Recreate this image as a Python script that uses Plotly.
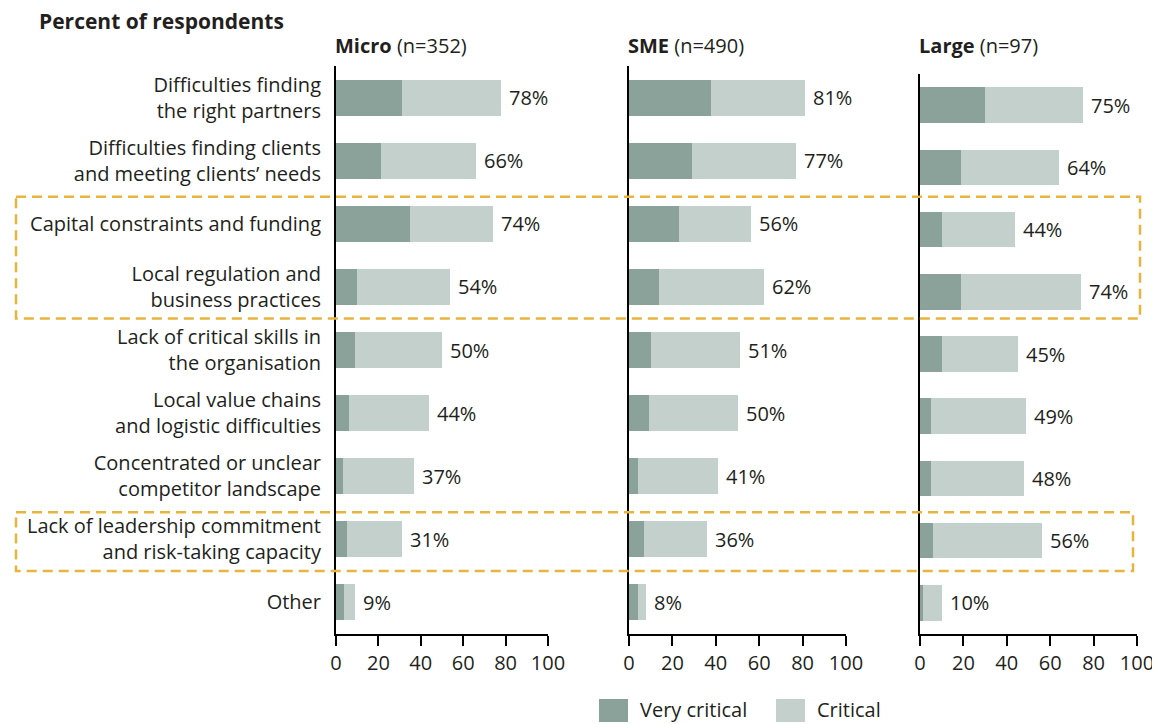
import plotly.graph_objects as go

categories = [
    "Difficulties finding<br>the right partners",
    "Difficulties finding clients<br>and meeting clients’ needs",
    "Capital constraints and funding",
    "Local regulation and<br>business practices",
    "Lack of critical skills in<br>the organisation",
    "Local value chains<br>and logistic difficulties",
    "Concentrated or unclear<br>competitor landscape",
    "Lack of leadership commitment<br>and risk-taking capacity",
    "Other",
]

panels = ["Micro", "SME", "Large"]
panel_n = ["(n=352)", "(n=490)", "(n=97)"]

micro_very = [31, 21, 35, 10, 9, 6, 3.5, 5, 4]
micro_crit = [47, 45, 39, 44, 41, 38, 33.5, 26, 5]
micro_total = [78, 66, 74, 54, 50, 44, 37, 31, 9]

sme_very = [38, 29, 23, 14, 10, 9, 4, 7, 4]
sme_crit = [43, 48, 33, 48, 41, 41, 37, 29, 4]
sme_total = [81, 77, 56, 62, 51, 50, 41, 36, 8]

large_very = [30, 19, 10, 19, 10, 5, 5, 6, 1.5]
large_crit = [45, 45, 34, 55, 35, 44, 43, 50, 8.5]
large_total = [75, 64, 44, 74, 45, 49, 48, 56, 10]

highlight_groups = [[2, 3], [7]]

x_ticks = [0, 20, 40, 60, 80, 100]

DARK = "#8BA29A"
LIGHT = "#C4D0CC"
TEXT = "#231F20"
GOLD = "#E9B43C"
FONT = "Open Sans"

OFF = 8  # page body margin
W, H = 1160 - OFF, 724 - OFF
PLOT_TOP, PLOT_BOTTOM = 66, 634
MT = PLOT_TOP - OFF
MB = H - (PLOT_BOTTOM - OFF)
PH = H - MT - MB

def px_x(p):
    return (p - OFF) / W

def px_y(p):
    return (PLOT_BOTTOM - p) / PH

data_sets = [
    (micro_very, micro_crit, micro_total),
    (sme_very, sme_crit, sme_total),
    (large_very, large_crit, large_total),
]
x_domains = [[px_x(336), px_x(548)], [px_x(629), px_x(846)], [px_x(920), px_x(1137)]]
y_domains = [[0, 1], [0, 1], [0, px_y(74)]]

fig = go.Figure()
annotations = []

for i, (very, crit, total) in enumerate(data_sets):
    sfx = "" if i == 0 else str(i + 1)
    fig.add_trace(go.Bar(
        y=categories, x=very, orientation="h", name="Very critical",
        marker=dict(color=DARK, line=dict(width=0)), width=0.57,
        xaxis="x" + sfx, yaxis="y" + sfx, showlegend=False, hoverinfo="x",
    ))
    fig.add_trace(go.Bar(
        y=categories, x=crit, orientation="h", name="Critical",
        marker=dict(color=LIGHT, line=dict(width=0)), width=0.57,
        xaxis="x" + sfx, yaxis="y" + sfx, showlegend=False, hoverinfo="x",
    ))
    for c, t in zip(categories, total):
        annotations.append(dict(
            x=t, y=c, xref="x" + sfx, yref="y" + sfx, text=f"{t}%",
            showarrow=False, xanchor="left", yanchor="middle", xshift=6,
            font=dict(family=FONT, size=20, color=TEXT),
        ))
    annotations.append(dict(
        x=x_domains[i][0], y=px_y(45), xref="paper", yref="paper",
        text=f"<b>{panels[i]}</b> {panel_n[i]}", showarrow=False,
        xanchor="left", yanchor="middle", xshift=-3,
        font=dict(family=FONT, size=20, color=TEXT),
    ))

axis_common = dict(
    range=[0, 100], tickvals=x_ticks, ticks="outside", ticklen=10, tickwidth=2,
    tickcolor="black", showline=True, linecolor="black", linewidth=2,
    showgrid=False, zeroline=False, fixedrange=True, automargin=False,
    tickfont=dict(family=FONT, size=20, color=TEXT),
)
yaxis_common = dict(
    categoryorder="array", categoryarray=categories, autorange="reversed",
    showline=True, linecolor="black", linewidth=2, ticks="", showgrid=False,
    zeroline=False, fixedrange=True, automargin=False,
    tickfont=dict(family=FONT, size=20, color=TEXT),
)

layout = dict(
    width=W, height=H, margin=dict(l=0, r=0, t=MT, b=MB, autoexpand=False),
    paper_bgcolor="white", plot_bgcolor="white", barmode="stack",
    bargap=0.43, showlegend=False,
    font=dict(family=FONT, color=TEXT),
)
for i in range(3):
    sfx = "" if i == 0 else str(i + 1)
    layout["xaxis" + sfx] = dict(axis_common, domain=x_domains[i], anchor="y" + sfx)
    ya = dict(yaxis_common, domain=y_domains[i], anchor="x" + sfx)
    if i == 0:
        ya["ticklabelstandoff"] = 9
    else:
        ya["showticklabels"] = False
    layout["yaxis" + sfx] = ya

fig.update_layout(**layout)

# Title
annotations.append(dict(
    x=px_x(37), y=px_y(21), xref="paper", yref="paper",
    text="<b>Percent of respondents</b>", showarrow=False,
    xanchor="left", yanchor="middle",
    font=dict(family=FONT, size=21, color=TEXT),
))

shapes = []
# Highlight boxes
box_right = [1140, 1133]
for g, grp in enumerate(highlight_groups):
    shapes.append(dict(
        type="rect", xref="paper", yref="y",
        x0=px_x(16), x1=px_x(box_right[g]),
        y0=grp[0] - 0.43, y1=grp[-1] + 0.5,
        line=dict(color=GOLD, width=2.5, dash="10px,6px"),
        fillcolor="rgba(0,0,0,0)", layer="above",
    ))

# Legend (manual)
legend_items = [("Very critical", DARK, 599), ("Critical", LIGHT, 776)]
for label, color, x0 in legend_items:
    shapes.append(dict(
        type="rect", xref="paper", yref="paper",
        x0=px_x(x0), x1=px_x(x0 + 29), y0=px_y(722), y1=px_y(699),
        fillcolor=color, line=dict(width=0),
    ))
    annotations.append(dict(
        x=px_x(x0 + 39), y=px_y(709), xref="paper", yref="paper",
        text=label, showarrow=False, xanchor="left", yanchor="middle",
        font=dict(family=FONT, size=20, color=TEXT),
    ))

fig.update_layout(annotations=annotations, shapes=shapes)
fig.write_html("out.html")
